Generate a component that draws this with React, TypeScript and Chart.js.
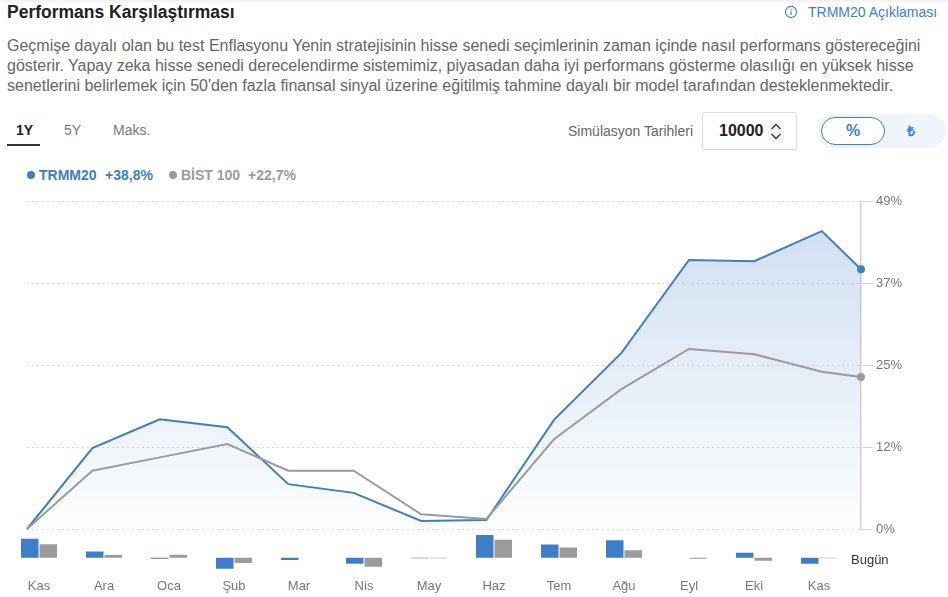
import React, { useEffect, useRef } from "react";
import { Chart, registerables } from "chart.js";

Chart.register(...registerables);

const dayOffsets = [0, 30, 61, 92, 120, 150, 181, 211, 242, 273, 304, 334, 365, 383];
const trmmValues = [0, 12.1, 16.4, 15.2, 6.7, 5.4, 1.2, 1.35, 16.3, 26.3, 40.2, 40, 44.5, 38.8];
const bistValues = [0, 8.7, 10.7, 12.7, 8.7, 8.7, 2.2, 1.5, 13.4, 20.9, 26.9, 26.1, 23.5, 22.7];
const yTicks = [0, 12.25, 24.5, 36.75, 49];

const months = ["Kas", "Ara", "Oca", "Şub", "Mar", "Nis", "May", "Haz", "Tem", "Ağu", "Eyl", "Eki", "Kas"];
const trmmMonthly = [12, 4, -0.6, -7, -1.4, -3.8, -0.3, 14.3, 8.3, 11, 0, 3.2, -3.8];
const bistMonthly = [8.5, 1.8, 1.9, -3.3, 0, -5.7, -0.4, 11.4, 6.4, 4.8, -0.7, -1.9, -0.4];

const BLUE = "#3f7dc9";
const GRAY = "#9b9b9b";
const LINK = "#3b7de0";
const FONT = '"Liberation Sans", Arial, sans-serif';

const abs = (left: number, top: number, extra: React.CSSProperties = {}): React.CSSProperties => ({
  position: "absolute",
  left,
  top,
  whiteSpace: "nowrap",
  ...extra,
});

export default function App() {
  const lineRef = useRef<HTMLCanvasElement>(null);
  const barRef = useRef<HTMLCanvasElement>(null);

  useEffect(() => {
    document.body.style.margin = "0";
    const lastIdx = dayOffsets.length - 1;
    const pointR = (ctx: any) => (ctx.dataIndex === lastIdx ? 4 : 0);
    const toPts = (vals: number[]) => vals.map((y, i) => ({ x: dayOffsets[i], y }));

    const line = new Chart(lineRef.current!, {
      type: "line",
      data: {
        datasets: [
          {
            label: "BİST 100",
            data: toPts(bistValues),
            borderColor: GRAY,
            backgroundColor: GRAY,
            borderWidth: 2,
            pointRadius: pointR,
            pointHoverRadius: pointR,
            pointBorderWidth: 0,
            fill: false,
            tension: 0,
            clip: false,
          },
          {
            label: "TRMM20",
            data: toPts(trmmValues),
            borderColor: BLUE,
            pointBackgroundColor: BLUE,
            borderWidth: 2,
            pointRadius: pointR,
            pointHoverRadius: pointR,
            pointBorderWidth: 0,
            tension: 0,
            clip: false,
            fill: "origin",
            backgroundColor: (ctx: any) => {
              const { chart } = ctx;
              const area = chart.chartArea;
              if (!area) return "transparent";
              const g = chart.ctx.createLinearGradient(0, area.top + 25, 0, area.bottom);
              g.addColorStop(0, "rgba(63,125,201,0.24)");
              g.addColorStop(1, "rgba(63,125,201,0.01)");
              return g;
            },
          },
        ] as any,
      },
      options: {
        animation: false,
        responsive: false,
        events: [],
        layout: { padding: { left: 27, right: 0, top: 11, bottom: 11 } },
        plugins: { legend: { display: false }, tooltip: { enabled: false } },
        scales: {
          x: { type: "linear", min: dayOffsets[0], max: dayOffsets[lastIdx], display: false },
          y: {
            position: "right",
            min: 0,
            max: 49,
            afterBuildTicks: (axis: any) => {
              axis.ticks = yTicks.map((value) => ({ value }));
            },
            afterFit: (axis: any) => {
              axis.width = 87;
            },
            border: { display: true, color: "#d5d5d5", width: 1.5, dash: [2, 3] },
            grid: {
              color: "#dadada",
              lineWidth: 1,
              drawTicks: true,
              tickLength: 12,
              tickColor: "#d5d5d5",
              tickBorderDash: [],
              tickWidth: 1,
            } as any,
            ticks: {
              padding: 3,
              color: "#777777",
              font: { family: FONT, size: 13 },
              callback: (v: any) => `${Math.round(Number(v))}%`,
            },
          },
        },
      },
    });

    const bar = new Chart(barRef.current!, {
      type: "bar",
      data: {
        labels: months,
        datasets: [
          { label: "TRMM20", data: trmmMonthly, backgroundColor: BLUE },
          { label: "BİST 100", data: bistMonthly, backgroundColor: GRAY },
        ],
      },
      options: {
        animation: false,
        responsive: false,
        events: [],
        layout: { padding: { left: 6.5, right: 96.5, top: 2, bottom: 0 } },
        plugins: { legend: { display: false }, tooltip: { enabled: false } },
        datasets: { bar: { categoryPercentage: 0.569, barPercentage: 0.946 } },
        scales: {
          x: {
            type: "category",
            grid: { display: false },
            border: { display: false },
            ticks: {
              color: "#777777",
              font: { family: FONT, size: 13 },
              padding: 0,
              maxRotation: 0,
              autoSkip: false,
            },
          },
          y: { display: false, min: -8, max: 15 },
        },
      } as any,
    });

    return () => {
      line.destroy();
      bar.destroy();
    };
  }, []);

  return (
    <div style={{ position: "relative", width: 948, height: 597, overflow: "hidden", fontFamily: FONT, background: "#fff" }}>
      <div style={abs(0, 0, { width: 948, height: 3, background: "linear-gradient(#f0f0f0,#ffffff)" })} />
      <div style={abs(7, 2, { fontSize: 17.5, fontWeight: 700, color: "#222", lineHeight: "20px" })}>Performans Karşılaştırması</div>
      <svg style={abs(784, 5)} width="14" height="14" viewBox="0 0 14 14">
        <circle cx="7" cy="7" r="5.6" fill="none" stroke={LINK} strokeWidth="1.1" />
        <rect x="6.5" y="6" width="1.1" height="4" fill={LINK} />
        <rect x="6.5" y="3.9" width="1.1" height="1.2" fill={LINK} />
      </svg>
      <div style={abs(808, 3, { fontSize: 14, color: LINK, lineHeight: "18px" })}>TRMM20 Açıklaması</div>

      <div style={abs(7, 36, { fontSize: 16, color: "#666", lineHeight: "20px" })}>
        Geçmişe dayalı olan bu test Enflasyonu Yenin stratejisinin hisse senedi seçimlerinin zaman içinde nasıl performans göstereceğini
        <br />
        gösterir. Yapay zeka hisse senedi derecelendirme sistemimiz, piyasadan daha iyi performans gösterme olasılığı en yüksek hisse
        <br />
        senetlerini belirlemek için 50'den fazla finansal sinyal üzerine eğitilmiş tahmine dayalı bir model tarafından desteklenmektedir.
      </div>

      <div style={abs(16, 122, { fontSize: 14, fontWeight: 700, color: "#222", lineHeight: "16px" })}>1Y</div>
      <div style={abs(7, 144, { width: 33, height: 2, background: "#333" })} />
      <div style={abs(64, 122, { fontSize: 14, color: "#777", lineHeight: "16px" })}>5Y</div>
      <div style={abs(113, 122, { fontSize: 14, color: "#777", lineHeight: "16px" })}>Maks.</div>

      <div style={abs(568, 123, { fontSize: 14, color: "#666", lineHeight: "16px" })}>Simülasyon Tarihleri</div>
      <div style={abs(702, 112, { width: 93, height: 36, border: "1px solid #dddddd", borderRadius: 2 })} />
      <div style={abs(719, 122, { fontSize: 16, fontWeight: 700, color: "#222", lineHeight: "18px" })}>10000</div>
      <svg style={abs(768, 122)} width="16" height="19" viewBox="0 0 16 19">
        <rect width="16" height="19" rx="3" fill="#f4f4f4" />
        <path d="M3.5 7 L8 2.5 L12.5 7 M3.5 12 L8 16.5 L12.5 12" fill="none" stroke="#333" strokeWidth="1.3" />
      </svg>
      <div style={abs(817, 114, { width: 129, height: 34, borderRadius: 17, background: "#f0f5fd" })} />
      <div
        style={abs(821, 117, {
          width: 62,
          height: 26,
          borderRadius: 14,
          background: "#fff",
          border: `1px solid ${LINK}`,
          color: LINK,
          fontSize: 16,
          fontWeight: 700,
          textAlign: "center",
          lineHeight: "26px",
        })}
      >
        %
      </div>
      <div style={abs(907, 122, { fontSize: 14, fontWeight: 700, color: LINK, lineHeight: "18px" })}>₺</div>

      <div style={abs(27, 171, { width: 8, height: 8, borderRadius: 4, background: BLUE })} />
      <div style={abs(39, 167, { fontSize: 14, fontWeight: 700, color: BLUE, lineHeight: "16px" })}>TRMM20</div>
      <div style={abs(105, 167, { fontSize: 14, fontWeight: 700, color: BLUE, lineHeight: "16px" })}>+38,8%</div>
      <div style={abs(169, 171, { width: 8, height: 8, borderRadius: 4, background: GRAY })} />
      <div style={abs(181, 167, { fontSize: 14, fontWeight: 700, color: GRAY, lineHeight: "16px" })}>BİST 100</div>
      <div style={abs(248, 167, { fontSize: 14, fontWeight: 700, color: GRAY, lineHeight: "16px" })}>+22,7%</div>

      <canvas ref={lineRef} width={948} height={350} style={abs(0, 190, { display: "block", width: 948, height: 350 })} />
      <canvas ref={barRef} width={948} height={62} style={abs(0, 532, { display: "block", width: 948, height: 62 })} />
      <div style={abs(851, 552, { fontSize: 13, color: "#333", lineHeight: "16px" })}>Bugün</div>
    </div>
  );
}
